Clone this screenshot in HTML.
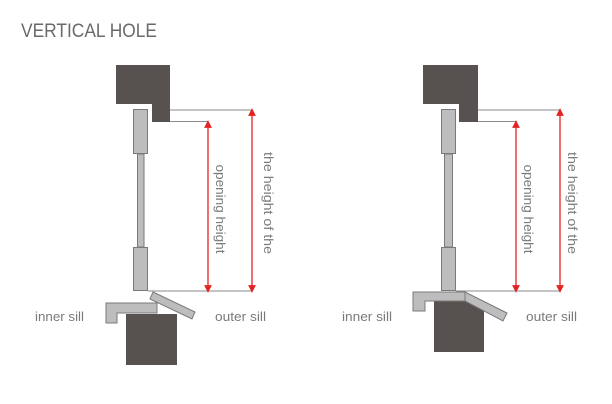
<!DOCTYPE html>
<html><head><meta charset="utf-8"><style>html,body{margin:0;padding:0;background:#fff}svg{display:block}</style></head>
<body>
<svg width="612" height="404" viewBox="0 0 612 404" xmlns="http://www.w3.org/2000/svg" font-family="Liberation Sans, sans-serif">
<defs>
<marker id="a" viewBox="0 0 10 10" refX="5" refY="5" markerWidth="6" markerHeight="6" orient="auto-start-reverse"><path d="M0,0 L10,5 L0,10 z" fill="#e52222"/></marker>
</defs>
<text x="21" y="37" font-size="19" fill="#6a6a6a" textLength="136" lengthAdjust="spacingAndGlyphs">VERTICAL HOLE</text>

<!-- LEFT -->
<g stroke="#8a8a8a" stroke-width="1" fill="none">
<line x1="170" y1="110" x2="252" y2="110"/>
<line x1="170" y1="121.5" x2="208" y2="121.5"/>
<line x1="148" y1="291" x2="252" y2="291"/>
</g>
<polygon points="116,65 170,65 170,122 152,122 152,104 116,104" fill="#575150"/>
<g fill="#bdbdbd" stroke="#7a7a7a" stroke-width="1">
<rect x="133.5" y="109.5" width="14" height="44"/>
<rect x="137.5" y="154" width="6.5" height="93"/>
<rect x="133.5" y="247.5" width="14" height="43"/>
<polygon points="106,303 157,303 157,313 117,313 117,323 106,323"/>
<polygon points="153,292 195,312 192,319 150,299"/>
</g>
<rect x="126" y="314" width="51" height="51" fill="#575150"/>
<g stroke="#e52222" stroke-width="1.3">
<line x1="208" y1="124" x2="208" y2="289" marker-start="url(#a)" marker-end="url(#a)"/>
<line x1="252" y1="112" x2="252" y2="289" marker-start="url(#a)" marker-end="url(#a)"/>
</g>
<g fill="#7a7a7a" font-size="13">
<text transform="translate(216,209) rotate(90)" text-anchor="middle" textLength="89" lengthAdjust="spacingAndGlyphs">opening height</text>
<text transform="translate(264,203) rotate(90)" text-anchor="middle" textLength="102" lengthAdjust="spacingAndGlyphs">the height of the</text>
<text x="35" y="321" textLength="49" lengthAdjust="spacingAndGlyphs">inner sill</text>
<text x="215" y="321" textLength="51" lengthAdjust="spacingAndGlyphs">outer sill</text>
</g>

<!-- RIGHT -->
<g stroke="#8a8a8a" stroke-width="1" fill="none">
<line x1="478" y1="110" x2="560" y2="110"/>
<line x1="478" y1="121.5" x2="516" y2="121.5"/>
<line x1="456" y1="291" x2="560" y2="291"/>
</g>
<polygon points="423,65 478,65 478,122 459,122 459,104 423,104" fill="#575150"/>
<rect x="434" y="301" width="50" height="51" fill="#575150"/>
<g fill="#bdbdbd" stroke="#7a7a7a" stroke-width="1">
<rect x="441.5" y="109.5" width="14" height="44"/>
<rect x="444.5" y="154" width="8" height="93"/>
<rect x="441.5" y="247.5" width="14" height="43"/>
<polygon points="413,292 465,292 465,301 425,301 425,311 413,311"/>
<polygon points="465,292 507,313 503,321 465,301"/>
</g>
<g stroke="#e52222" stroke-width="1.3">
<line x1="516" y1="124" x2="516" y2="289" marker-start="url(#a)" marker-end="url(#a)"/>
<line x1="560" y1="112" x2="560" y2="289" marker-start="url(#a)" marker-end="url(#a)"/>
</g>
<g fill="#7a7a7a" font-size="13">
<text transform="translate(524,209) rotate(90)" text-anchor="middle" textLength="89" lengthAdjust="spacingAndGlyphs">opening height</text>
<text transform="translate(568,203) rotate(90)" text-anchor="middle" textLength="102" lengthAdjust="spacingAndGlyphs">the height of the</text>
<text x="342" y="321" textLength="50" lengthAdjust="spacingAndGlyphs">inner sill</text>
<text x="526" y="321" textLength="51" lengthAdjust="spacingAndGlyphs">outer sill</text>
</g>
</svg>
</body></html>
